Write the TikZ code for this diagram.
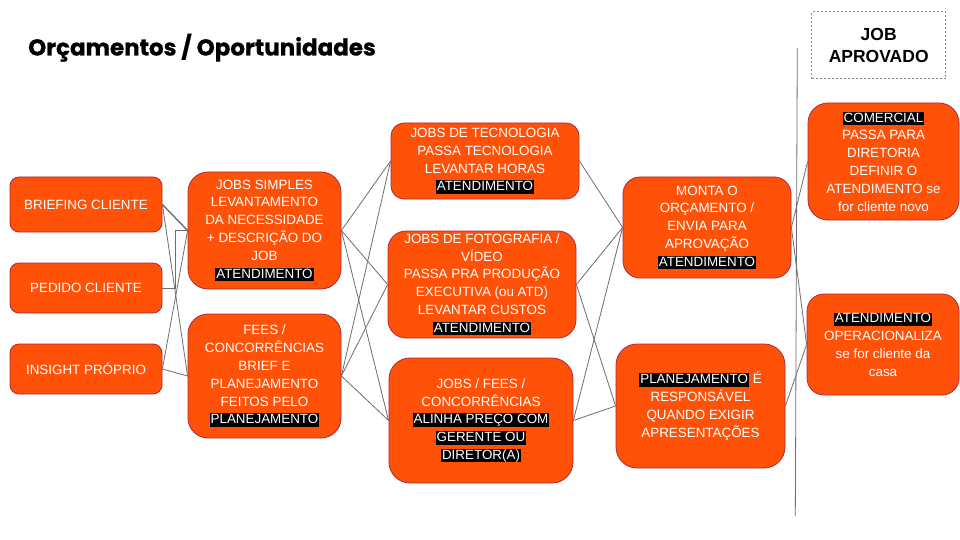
\documentclass[tikz,border=0pt]{standalone}
\usepackage{fontspec}
\setmainfont{Liberation Sans}
\newfontfamily\titlefont{Poppins}[BoldFeatures={FakeBold=0.8}]
\usetikzlibrary{calc}
\definecolor{boxfill}{HTML}{FF5108}
\definecolor{boxline}{HTML}{B0273A}
\definecolor{conn}{HTML}{6E6E6E}
\definecolor{dashc}{HTML}{8A8A8A}
\newcommand\hlt[1]{{\setlength\fboxsep{0pt}\colorbox{black}{\rule[-3pt]{0pt}{13.4pt}\hspace{1pt}#1\hspace{1pt}}}}
\begin{document}
\begin{tikzpicture}[x=1pt,y=-1pt,
  box/.style={draw=boxline, line width=0.8pt, fill=boxfill, rounded corners=#1,
    text=white, align=center, inner sep=0pt,
    font=\fontsize{13.4pt}{17.8pt}\selectfont},
  box/.default=10pt,
  conn/.style={draw=conn, line width=0.8pt}]
\useasboundingbox (0,0) rectangle (960,540);
\fill[white] (0,0) rectangle (960,540);

% title
\node[anchor=base west, inner sep=0pt, font=\titlefont\bfseries\fontsize{23pt}{26pt}\selectfont] (title) at (28,55.5) {Orçamentos / Oportunidades};

% job aprovado
\node[draw=dashc, dash pattern=on 2pt off 2pt, line width=0.7pt, minimum width=134pt, minimum height=67pt, inner sep=0pt,
  align=center, font=\bfseries\fontsize{17.5pt}{22pt}\selectfont] (aprov) at (878.7,45.3) {JOB\\APROVADO};

% left column
\node[box=9pt, minimum width=152pt, minimum height=55pt] (brief) at (86,204.5) {BRIEFING CLIENTE};
\node[box=9pt, minimum width=152pt, minimum height=50pt] (pedido) at (86,288) {PEDIDO CLIENTE};
\node[box=9pt, minimum width=152pt, minimum height=50pt] (insight) at (86,369) {INSIGHT PRÓPRIO};

% second column
\node[box=20pt, minimum width=153pt, minimum height=117pt] (simples) at (264.5,230.5)
  {JOBS SIMPLES\\LEVANTAMENTO\\DA NECESSIDADE\\+ DESCRIÇÃO DO\\JOB\\\hlt{ATENDIMENTO}};
\node[box=20pt, minimum width=153pt, minimum height=124pt] (fees) at (264.5,376)
  {FEES /\\CONCORRÊNCIAS\\BRIEF E\\PLANEJAMENTO\\FEITOS PELO\\\hlt{PLANEJAMENTO}};

% third column
\node[box=13pt, minimum width=188pt, minimum height=76pt] (tec) at (485,161)
  {JOBS DE TECNOLOGIA\\PASSA TECNOLOGIA\\LEVANTAR HORAS\\\hlt{ATENDIMENTO}};
\node[box=18pt, minimum width=188pt, minimum height=107pt] (foto) at (482,284.5)
  {JOBS DE FOTOGRAFIA /\\VÍDEO\\PASSA PRA PRODUÇÃO\\EXECUTIVA (ou ATD)\\LEVANTAR CUSTOS\\\hlt{ATENDIMENTO}};
\node[box=21pt, minimum width=184pt, minimum height=125pt] (jf) at (481,420.5)
  {JOBS / FEES /\\CONCORRÊNCIAS\\\hlt{ALINHA PREÇO COM}\\\hlt{GERENTE OU}\\\hlt{DIRETOR(A)}};

% fourth column
\node[box=17pt, minimum width=168pt, minimum height=101pt] (monta) at (707,227.5)
  {MONTA O\\ORÇAMENTO /\\ENVIA PARA\\APROVAÇÃO\\\hlt{ATENDIMENTO}};
\node[box=21pt, minimum width=169pt, minimum height=124pt] (plan) at (700.5,406)
  {\hlt{PLANEJAMENTO} É\\RESPONSÁVEL\\QUANDO EXIGIR\\APRESENTAÇÕES};

% right column
\node[box=20pt, minimum width=151pt, minimum height=117pt] (com) at (883.5,161.5)
  {\hlt{COMERCIAL}\\PASSA PARA\\DIRETORIA\\DEFINIR O\\ATENDIMENTO se\\for cliente novo};
\node[box=17pt, minimum width=152pt, minimum height=101pt] (oper) at (883,344.5)
  {\hlt{ATENDIMENTO}\\OPERACIONALIZA\\se for cliente da\\casa};

% divider
\coordinate (vtop) at (797.3,48);
\coordinate (vbot) at (795.3,516);
\draw[conn] (vtop) -- (vbot);

% connectors
\draw[conn, line width=1.4pt] (brief.east) -- (simples.west);
\draw[conn] (brief.east) -- (fees.west);
\draw[conn] (pedido.east) -- ++(13,0) |- (simples.west);
\draw[conn] (insight.east) -- (simples.west);
\draw[conn] (insight.east) -- (fees.west);
\foreach \s in {simples,fees}{
  \foreach \t in {tec,foto,jf}{
    \draw[conn] (\s.east) -- (\t.west);
  }
}
\draw[conn] (tec.east) -- (monta.west);
\draw[conn] (foto.east) -- (monta.west);
\draw[conn] (foto.east) -- (plan.west);
\draw[conn] (jf.east) -- (monta.west);
\draw[conn] (jf.east) -- (plan.west);
\draw[conn] (monta.east) -- (com.west);
\draw[conn] (monta.east) -- (oper.west);
\draw[conn] (plan.east) -- (oper.west);
\end{tikzpicture}
\end{document}
